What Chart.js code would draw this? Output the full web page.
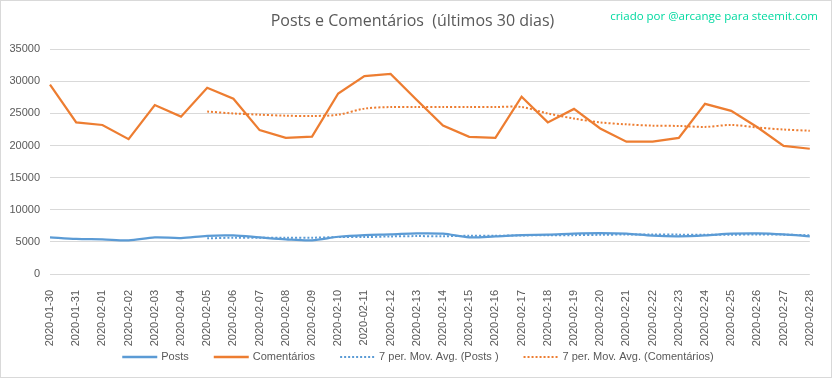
<!DOCTYPE html>
<html>
<head>
<meta charset="utf-8">
<script src="https://cdn.jsdelivr.net/npm/chart.js@4.4.1/dist/chart.umd.min.js"></script>
<style>
  html, body { margin: 0; padding: 0; background: #fff; }
  #wrap { position: relative; width: 832px; height: 378px; box-sizing: border-box; border: 1px solid #d9d9d9; }
  #credit { position: absolute; right: 13px; top: 7px; font-family: "Open Sans", sans-serif; font-size: 11.5px; color: #00d9a0; }
</style>
</head>
<body>
<div id="wrap">
  <canvas id="myChart" width="830" height="376"></canvas>
  <div id="credit">criado por @arcange para steemit.com</div>
</div>
<script>
// dias
var labels = ["2020-01-30", "2020-01-31", "2020-02-01", "2020-02-02", "2020-02-03", "2020-02-04",
    "2020-02-05", "2020-02-06", "2020-02-07", "2020-02-08", "2020-02-09", "2020-02-10",
    "2020-02-11", "2020-02-12", "2020-02-13", "2020-02-14", "2020-02-15", "2020-02-16",
    "2020-02-17", "2020-02-18", "2020-02-19", "2020-02-20", "2020-02-21", "2020-02-22",
    "2020-02-23", "2020-02-24", "2020-02-25", "2020-02-26", "2020-02-27", "2020-02-28"];

var posts = [5700, 5450, 5390, 5240, 5700, 5600, 5950, 6000, 5700, 5400,
    5250, 5800, 6070, 6170, 6330, 6280, 5700, 5860, 6070, 6120,
    6280, 6350, 6270, 5960, 5860, 6000, 6270, 6330, 6170, 5860];

var comentarios = [29500, 23600, 23200, 21000, 26300, 24500, 29000, 27300, 22400, 21200,
    21400, 28100, 30800, 31150, 27100, 23100, 21350, 21200, 27600, 23600,
    25700, 22650, 20600, 20600, 21200, 26500, 25400, 22850, 19950, 19500];

// 7 per. Mov. Avg.
var mediaPosts = [null, null, null, null, null, null, 5550, 5650, 5650, 5650,
    5650, 5750, 5750, 5850, 5900, 5880, 5950, 5960, 6000, 6050,
    6050, 6100, 6150, 6150, 6130, 6100, 6120, 6150, 6130, 6030];

var mediaComentarios = [null, null, null, null, null, null, 25300, 25000, 24800, 24650,
    24600, 24800, 25750, 26000, 26000, 26000, 26000, 26000, 26000, 25000,
    24200, 23600, 23300, 23100, 23050, 22900, 23200, 22800, 22500, 22300];

var yTicks = [0, 5000, 10000, 15000, 20000, 25000, 30000, 35000];

var blue = '#5b9bd5'
var orange = '#ed7d31'
var grey = '#595959'
var font = "'Liberation Sans', Arial, sans-serif"

// legenda desenhada a mao embaixo (a do chart.js ocupa altura demais)
var legendaLinhas = {
    id: 'legendaLinhas',
    afterDraw: function (chart) {
        var c = chart.ctx
        var sets = chart.data.datasets
        var lineW = 35, gapText = 4, gapItem = 25
        c.save()
        c.font = '11px ' + font
        var total = 0
        sets.forEach(function (ds, i) {
            total += lineW + gapText + c.measureText(ds.label).width
            if (i < sets.length - 1) total += gapItem
        })
        var x = chart.width / 2 + 2 - total / 2
        var y = 356
        sets.forEach(function (ds) {
            c.beginPath()
            c.setLineDash(ds.borderDash || [])
            c.lineWidth = ds.borderDash ? 2 : 2.5
            c.strokeStyle = ds.borderColor
            c.moveTo(x, y)
            c.lineTo(x + lineW, y)
            c.stroke()
            c.setLineDash([])
            x += lineW + gapText
            c.fillStyle = grey
            c.textBaseline = 'middle'
            c.fillText(ds.label, x, y)
            x += c.measureText(ds.label).width + gapItem
        })
        c.restore()
    }
}

var ctx = document.getElementById('myChart').getContext('2d');
new Chart(ctx, {
    type: 'line',
    data: {
        labels: labels,
        datasets: [{
            label: 'Posts',
            data: posts,
            borderColor: blue,
            backgroundColor: blue,
            borderWidth: 2.25,
            tension: 0.3,
            pointRadius: 0
        }, {
            label: 'Comentários',
            data: comentarios,
            borderColor: orange,
            backgroundColor: orange,
            borderWidth: 2.25,
            tension: 0,
            pointRadius: 0
        }, {
            label: '7 per. Mov. Avg. (Posts )',
            data: mediaPosts,
            borderColor: blue,
            backgroundColor: blue,
            borderWidth: 2,
            borderDash: [2, 2],
            tension: 0.3,
            pointRadius: 0
        }, {
            label: '7 per. Mov. Avg. (Comentários)',
            data: mediaComentarios,
            borderColor: orange,
            backgroundColor: orange,
            borderWidth: 2,
            borderDash: [2, 2],
            tension: 0.3,
            pointRadius: 0
        }]
    },
    plugins: [legendaLinhas],
    options: {
        responsive: false,
        animation: false,
        layout: { padding: { left: 8, right: 15, top: 6, bottom: 29 } },
        plugins: {
            title: {
                display: true,
                text: 'Posts e Comentários  (últimos 30 dias)',
                color: grey,
                font: { family: "'Open Sans', sans-serif", size: 16, weight: 'normal' },
                padding: { top: 5, bottom: 18 }
            },
            legend: { display: false },
            tooltip: { enabled: false }
        },
        scales: {
            x: {
                grid: { display: false },
                border: { display: false },
                ticks: {
                    color: grey,
                    font: { family: font, size: 11 },
                    minRotation: 90,
                    maxRotation: 90,
                    autoSkip: false,
                    padding: 8
                },
                afterFit: function (scale) { scale.height = 74 }
            },
            y: {
                min: 0,
                max: 35000,
                afterBuildTicks: function (scale) {
                    scale.ticks = yTicks.map(function (v) { return { value: v } })
                },
                grid: { color: '#d9d9d9', drawTicks: false },
                border: { display: false },
                ticks: {
                    color: grey,
                    font: { family: font, size: 11 },
                    padding: 10,
                    callback: function (v) { return String(v) }
                },
                afterFit: function (scale) { scale.width = 41 }
            }
        }
    }
});
</script>
</body>
</html>
